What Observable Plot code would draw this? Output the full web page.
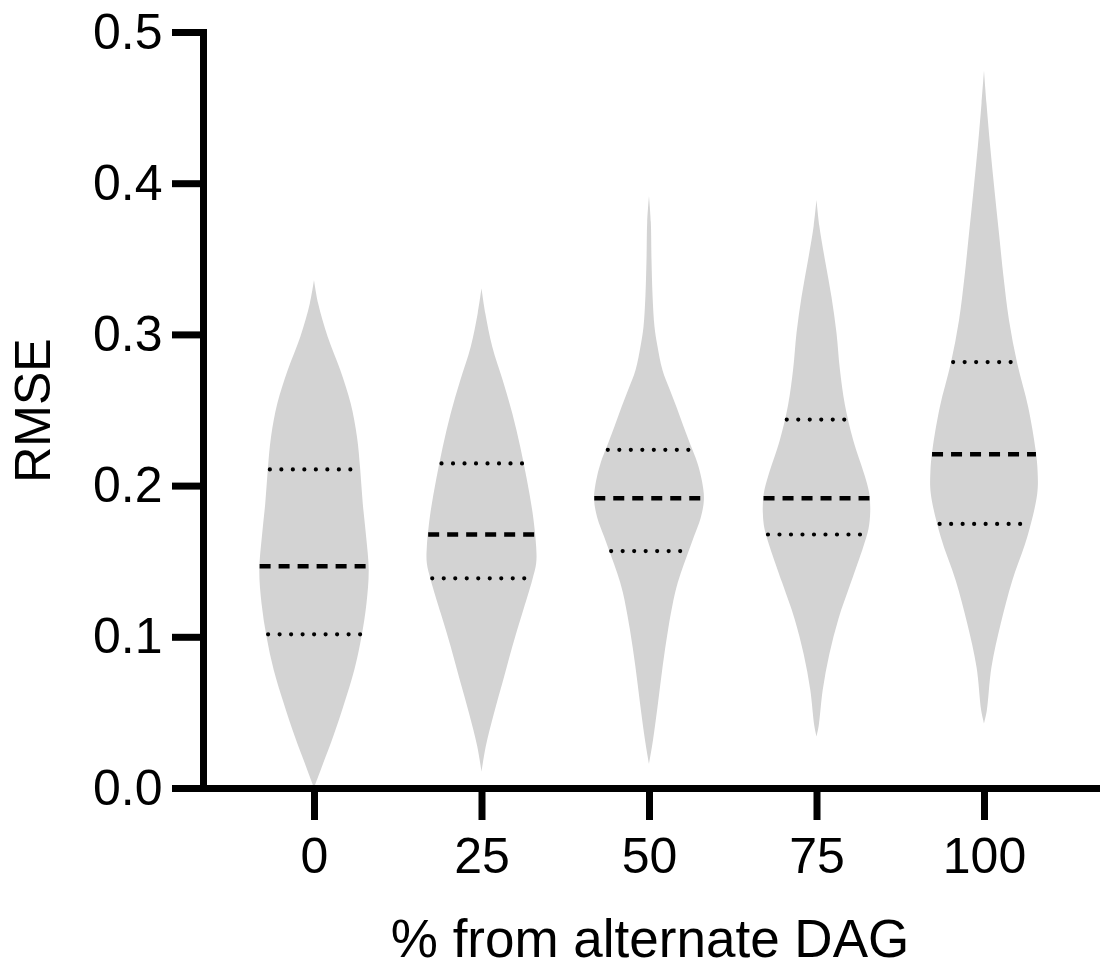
<!DOCTYPE html>
<html>
<head>
<meta charset="utf-8">
<script src="https://cdn.jsdelivr.net/npm/d3@7"></script>
<script src="https://cdn.jsdelivr.net/npm/@observablehq/plot@0.6"></script>
<style>
  html, body { margin: 0; padding: 0; background: #ffffff; }
  #chart { width: 1106px; height: 967px; }
</style>
</head>
<body>
<div id="chart"></div>
<script>
// ---- data ----
const categories = [0, 25, 50, 75, 100];
const yTicks = [0, 0.1, 0.2, 0.3, 0.4, 0.5];
const q1 = [0.102, 0.139, 0.157, 0.168, 0.175];
const median = [0.147, 0.168, 0.192, 0.192, 0.221];
const q3 = [0.211, 0.215, 0.224, 0.244, 0.282];

// violin outlines: [RMSE, relative density (1 = widest)]
const density0 = [[0.336,0],[0.3205,0.076],[0.2985,0.249],[0.2765,0.478],[0.2544,0.667],[0.2323,0.782],[0.2103,0.842],[0.1883,0.887],[0.1662,0.949],[0.1442,0.996],[0.1221,0.955],[0.1001,0.864],[0.078,0.733],[0.056,0.551],[0.034,0.349],[0.0163,0.167],[0.0,0]];
const density25 = [[0.3305,0],[0.314,0.069],[0.2919,0.196],[0.2698,0.385],[0.2478,0.56],[0.2257,0.705],[0.2037,0.827],[0.1817,0.931],[0.1596,0.995],[0.1486,0.995],[0.1376,0.924],[0.1155,0.742],[0.0935,0.56],[0.0714,0.395],[0.0494,0.227],[0.0273,0.076],[0.0108,0]];
const density50 = [[0.3915,0],[0.3743,0.033],[0.35,0.045],[0.3254,0.065],[0.305,0.1],[0.293,0.15],[0.2765,0.245],[0.2642,0.37],[0.252,0.5],[0.2397,0.622],[0.2275,0.749],[0.2153,0.878],[0.203,0.964],[0.1908,1.0],[0.1786,0.94],[0.1663,0.818],[0.1541,0.696],[0.1419,0.576],[0.1296,0.478],[0.1052,0.349],[0.0807,0.249],[0.0562,0.164],[0.0317,0.073],[0.0159,0]];
const density75 = [[0.3889,0],[0.3719,0.051],[0.3483,0.158],[0.3247,0.273],[0.301,0.364],[0.2774,0.424],[0.2538,0.515],[0.2302,0.667],[0.2065,0.878],[0.1947,0.96],[0.1829,0.978],[0.1711,0.945],[0.1593,0.849],[0.1357,0.624],[0.112,0.4],[0.0884,0.233],[0.0648,0.113],[0.0412,0.04],[0.0341,0]];
const density100 = [[0.4743,0],[0.4528,0.045],[0.4241,0.113],[0.3954,0.191],[0.3667,0.273],[0.3381,0.355],[0.3094,0.455],[0.2807,0.605],[0.252,0.804],[0.2233,0.94],[0.209,0.976],[0.1947,0.969],[0.166,0.787],[0.1373,0.515],[0.1086,0.304],[0.08,0.136],[0.0513,0.051],[0.0427,0]];
const densities = [density0, density25, density50, density75, density100];

// ---- build tables ----
const halfWidth = 8.2; // max half-width of a violin, in x-axis units
const outline = categories.flatMap((c, i) =>
  densities[i].map(([v, d]) => ({cat: c, rmse: v, density: d})));

function densityAt(shape, v) {
  for (let k = 0; k < shape.length - 1; k++) {
    const [a, da] = shape[k], [b, db] = shape[k + 1];
    if (v <= a && v >= b) {
      const t = (a - v) / (a - b);
      return da + t * (db - da);
    }
  }
  return 0;
}
const medianRows = categories.map((c, i) => ({cat: c, rmse: median[i], density: densityAt(densities[i], median[i])}));
const quartileRows = categories.flatMap((c, i) => [
  {cat: c, rmse: q1[i], density: densityAt(densities[i], q1[i])},
  {cat: c, rmse: q3[i], density: densityAt(densities[i], q3[i])}
]);

const font = "'Liberation Sans', Arial, Helvetica, sans-serif";

const chart = Plot.plot({
  width: 1106,
  height: 967,
  marginTop: 32,
  marginBottom: 179,
  marginLeft: 203,
  marginRight: 10,
  style: {fontFamily: font, background: "#ffffff", color: "#000000", overflow: "visible"},
  x: {domain: [-16.567, 116.716], label: null},
  y: {domain: [0, 0.5], label: null},
  marks: [
    Plot.areaX(outline, {
      y: "rmse",
      x1: d => d.cat - d.density * halfWidth,
      x2: d => d.cat + d.density * halfWidth,
      z: "cat",
      fill: "#d3d3d3",
      curve: "catmull-rom"
    }),
    Plot.ruleY(medianRows, {
      y: "rmse",
      x1: d => d.cat - d.density * halfWidth,
      x2: d => d.cat + d.density * halfWidth,
      stroke: "#000",
      strokeWidth: 4.5,
      strokeDasharray: "11 8"
    }),
    Plot.ruleY(quartileRows, {
      y: "rmse",
      x1: d => d.cat - d.density * halfWidth + 0.3,
      x2: d => d.cat + d.density * halfWidth,
      stroke: "#000",
      strokeWidth: 4.2,
      strokeLinecap: "round",
      strokeDasharray: "0 11.5"
    }),
    Plot.frame({anchor: "left", stroke: "#000", strokeWidth: 7, strokeLinecap: "square"}),
    Plot.frame({anchor: "bottom", stroke: "#000", strokeWidth: 7, strokeLinecap: "square"}),
    Plot.axisY({
      ticks: yTicks,
      tickFormat: d3.format(".1f"),
      tickSize: 31,
      tickPadding: 10,
      fontSize: 50,
      stroke: "#000",
      strokeWidth: 7,
      fill: "#000",
      label: null
    }),
    Plot.axisX({
      ticks: categories,
      tickFormat: d => String(d),
      tickSize: 32,
      tickPadding: 17,
      fontSize: 50,
      stroke: "#000",
      strokeWidth: 7,
      fill: "#000",
      label: null
    }),
    Plot.text(["RMSE"], {
      text: d => d,
      frameAnchor: "left",
      dx: -170,
      rotate: -90,
      textAnchor: "middle",
      lineAnchor: "middle",
      fontSize: 50,
      fill: "#000"
    }),
    Plot.text(["% from alternate DAG"], {
      text: d => d,
      frameAnchor: "bottom",
      dy: 152,
      textAnchor: "middle",
      lineAnchor: "middle",
      fontSize: 53,
      fill: "#000"
    })
  ]
});
document.getElementById("chart").append(chart);
</script>
</body>
</html>
